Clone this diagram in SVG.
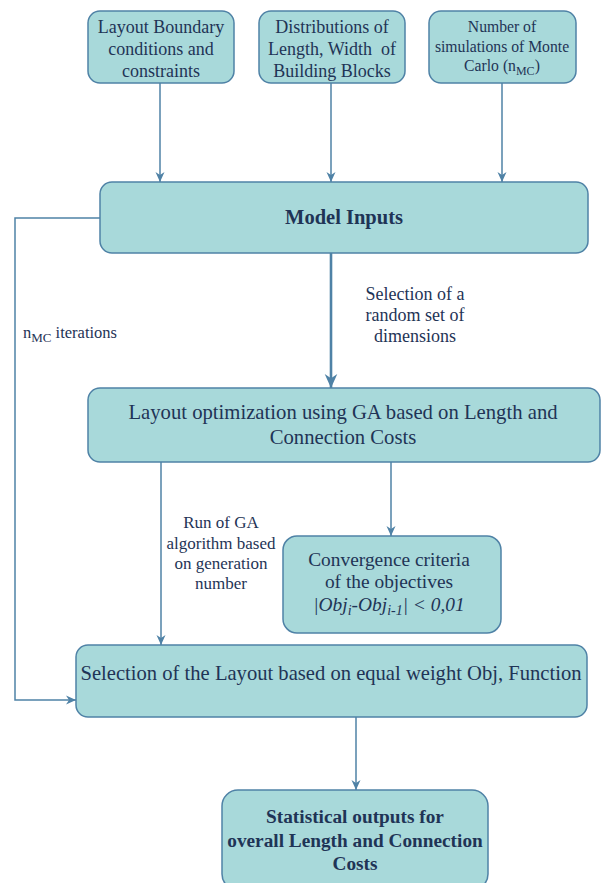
<svg xmlns="http://www.w3.org/2000/svg" width="602" height="883" viewBox="0 0 602 883">
<style>
.box{fill:#A8D9DA;stroke:#4F82A6;stroke-width:1.5}
.t{font-family:"Liberation Serif","Times New Roman",serif;fill:#1F3456;text-anchor:middle}
.s{text-anchor:start}
.b{font-weight:bold}
.c{fill:none;stroke:#4F82A6;stroke-width:1.5}
.cm{fill:none;stroke:#4F82A6;stroke-width:2.6}
</style>
<defs>
<marker id="ah" markerUnits="userSpaceOnUse" markerWidth="10" markerHeight="10" viewBox="0 0 10 10" refX="10" refY="5" orient="auto">
<path d="M0,0.5 L10,5 L0,9.5 L3,5 Z" fill="#4F82A6"/>
</marker>
<marker id="ahb" markerUnits="userSpaceOnUse" markerWidth="14" markerHeight="14" viewBox="0 0 10 10" refX="10" refY="5" orient="auto">
<path d="M0,0.5 L10,5 L0,9.5 L3,5 Z" fill="#4F82A6"/>
</marker>
</defs>
<g id="connectors">
<line class="c" x1="160" y1="83" x2="160" y2="182" marker-end="url(#ah)"/>
<line class="c" x1="331" y1="83" x2="331" y2="182" marker-end="url(#ah)"/>
<line class="c" x1="502" y1="83" x2="502" y2="182" marker-end="url(#ah)"/>
<line class="cm" x1="331" y1="253" x2="331" y2="388" marker-end="url(#ahb)"/>
<line class="c" x1="391" y1="462" x2="391" y2="536" marker-end="url(#ah)"/>
<line class="c" x1="161" y1="462" x2="161" y2="645" marker-end="url(#ah)"/>
<polyline class="c" points="100,218 15,218 15,700 76,700" marker-end="url(#ah)"/>
<line class="c" x1="356" y1="717" x2="356" y2="790" marker-end="url(#ah)"/>
<text class="t" x="415" y="300" font-size="18">Selection of a</text>
<text class="t" x="415" y="321" font-size="18">random set of</text>
<text class="t" x="415" y="342" font-size="18">dimensions</text>
<text class="t s" x="23" y="338" font-size="16.5">n<tspan font-size="13" dy="4">MC</tspan><tspan dy="-4"> iterations</tspan></text>
<text class="t" x="221" y="528" font-size="17">Run of GA</text>
<text class="t" x="221" y="549" font-size="17">algorithm based</text>
<text class="t" x="221" y="569" font-size="17">on generation</text>
<text class="t" x="221" y="589" font-size="17">number</text>
</g>
<g id="n1">
<rect class="box" x="88" y="11" width="146" height="72" rx="12"/>
<text class="t" x="161" y="33" font-size="18">Layout Boundary</text>
<text class="t" x="161" y="55" font-size="18">conditions and</text>
<text class="t" x="161" y="77" font-size="18">constraints</text>
</g>
<g id="n2">
<rect class="box" x="259" y="11" width="146" height="72" rx="12"/>
<text class="t" x="332" y="33" font-size="18">Distributions of</text>
<text class="t" x="332" y="55" font-size="18">Length, Width&#160; of</text>
<text class="t" x="332" y="77" font-size="18">Building Blocks</text>
</g>
<g id="n3">
<rect class="box" x="429" y="11" width="147" height="72" rx="12"/>
<text class="t" x="502" y="32" font-size="15.7">Number of</text>
<text class="t" x="502" y="52" font-size="15.7">simulations of Monte</text>
<text class="t" x="502" y="71" font-size="15.7">Carlo (n<tspan font-size="12" dy="4">MC</tspan><tspan dy="-4">)</tspan></text>
</g>
<g id="n4">
<rect class="box" x="100" y="182" width="488" height="71" rx="12"/>
<text class="t b" x="344" y="224" font-size="20.5">Model Inputs</text>
</g>
<g id="n5">
<rect class="box" x="88" y="388" width="512" height="74" rx="12"/>
<text class="t" x="343" y="419" font-size="20.7">Layout optimization using GA based on Length and</text>
<text class="t" x="343" y="444" font-size="20.7">Connection Costs</text>
</g>
<g id="n6">
<rect class="box" x="283" y="536" width="218" height="97" rx="14"/>
<text class="t" x="389" y="566" font-size="19.4">Convergence criteria</text>
<text class="t" x="389" y="588" font-size="19.4">of the objectives</text>
<text class="t" x="389" y="611" font-size="19.4" font-style="italic">|Obj<tspan font-size="14" dy="4">i</tspan><tspan dy="-4">-Obj</tspan><tspan font-size="14" dy="4">i-1</tspan><tspan dy="-4">| &lt; 0,01</tspan></text>
</g>
<g id="n7">
<rect class="box" x="76" y="645" width="511" height="72" rx="12"/>
<text class="t" x="331" y="680" font-size="20.6">Selection of the Layout based on equal weight Obj, Function</text>
</g>
<g id="n8">
<rect class="box" x="222" y="790" width="266" height="100" rx="16"/>
<text class="t b" x="355" y="823" font-size="19.3">Statistical outputs for</text>
<text class="t b" x="355" y="847" font-size="19.3">overall Length and Connection</text>
<text class="t b" x="355" y="870" font-size="19.3">Costs</text>
</g>
</svg>
